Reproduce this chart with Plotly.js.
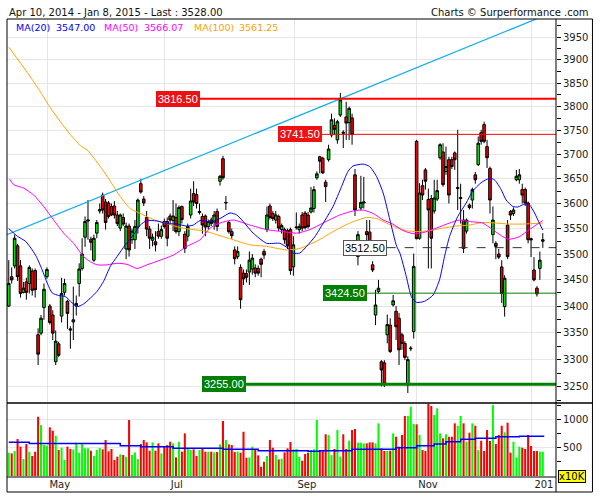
<!DOCTYPE html>
<html><head><meta charset="utf-8">
<script src="https://cdn.plot.ly/plotly-3.0.1.min.js"></script>
<style>html,body{margin:0;padding:0;background:#fff}#chart{width:600px;height:500px}</style>
</head><body><div id="chart"></div>
<script>
// ---- data ----
const open = [3400,3456,3477,3516,3477,3426,3446,3443,3467,3468,3346,3349,3397,3456,3400,3383,3296,3329,3381,3426,3409,3357,3370,3400,3443,3472,3533,3565,3529,3488,3541,3585,3617,3603,3601,3594,
3595,3577,3551,3572,3510,3555,3528,3528,3553,3640,3609,3572,3549,3527,3524,3544,3535,3564,3564,3575,3566,3572,3544,3594,3539,3535,3577,3620,3618,3582,3574,3575,3554,3567,3563,3584,
3645,3691,3601,3562,3544,3508,3495,3474,3463,3462,3465,3471,3473,3472,3490,3505,3548,3595,3580,3567,3574,3548,3548,3546,3548,3475,3552,3548,3577,3581,3577,3583,3590,3652,3695,3692,3643,3689,
3740,3760,3730,3782,3746,3778,3766,3776,3658,3495,3591,3601,3544,3543,3479,3383,3428,3296,3294,3346,3364,3402,3390,3377,3346,3330,3254,3320,3352,3727,3531,3636,3668,3608,3610,3585,3609,3693,3705,3665,3689,3689,3703,3630,3610,3567,3545,3597,3607,3658,3679,3745,3762,3716,3671,3538,3521,3500,3475,3399,3557,3584,3580,3648,3648,3628,3628,3601,3530,3469,3434,3472,3525];
const high = [3488,3474,3538,3520,3488,3446,3454,3478,3472,3472,3358,3383,3443,3474,3404,3392,3354,3333,3454,3452,3412,3362,3437,3420,3482,3531,3574,3607,3534,3538,3567,3600,3622,3609,3605,3600,
3605,3585,3580,3580,3562,3560,3550,3567,3610,3650,3615,3585,3555,3540,3545,3560,3556,3570,3572,3580,3607,3600,3596,3596,3545,3560,3630,3645,3630,3600,3580,3578,3568,3572,3585,3590,
3658,3697,3615,3566,3550,3515,3515,3480,3470,3470,3505,3500,3480,3478,3493,3510,3594,3600,3585,3585,3578,3560,3552,3550,3552,3535,3582,3560,3583,3585,3583,3633,3635,3665,3697,3695,3648,3720,
3785,3775,3772,3829,3750,3810,3800,3785,3670,3545,3656,3654,3567,3567,3486,3431,3450,3299,3299,3384,3377,3421,3400,3387,3350,3334,3306,3325,3501,3730,3641,3648,3672,3630,3617,3648,3648,3723,3723,3716,3695,3695,3706,3751,3640,3587,3570,3600,3632,3664,3737,3751,3768,3730,3675,3594,3525,3510,3488,3459,3567,3587,3592,3668,3670,3640,3632,3604,3532,3494,3438,3505,3541];
const low = [3398,3443,3472,3448,3416,3424,3412,3424,3420,3416,3290,3345,3374,3452,3365,3336,3290,3305,3369,3420,3357,3320,3336,3382,3418,3468,3514,3528,3507,3485,3531,3580,3580,3548,3570,3575,
3570,3555,3545,3555,3490,3495,3520,3510,3540,3620,3595,3535,3510,3515,3505,3530,3530,3550,3515,3560,3545,3540,3535,3560,3502,3525,3570,3595,3590,3578,3540,3535,3548,3555,3548,3545,
3636,3648,3587,3540,3530,3480,3490,3395,3440,3445,3440,3460,3455,3458,3455,3490,3543,3568,3565,3560,3545,3540,3520,3510,3460,3458,3548,3540,3545,3548,3550,3580,3582,3648,3661,3660,3603,3685,
3735,3740,3722,3778,3713,3730,3730,3720,3575,3478,3586,3590,3508,3500,3465,3364,3424,3251,3250,3330,3312,3399,3336,3290,3318,3299,3239,3316,3339,3529,3528,3607,3628,3472,3472,3580,3605,3689,3634,3658,3600,3670,3668,3587,3560,3502,3540,3588,3590,3640,3676,3720,3723,3672,3580,3521,3490,3490,3406,3380,3490,3567,3575,3645,3640,3600,3595,3521,3494,3447,3418,3450,3512];
const close = [3443,3450,3531,3456,3424,3434,3426,3474,3430,3431,3310,3377,3432,3470,3369,3349,3334,3308,3424,3443,3386,3355,3374,3405,3471,3500,3564,3567,3523,3531,3562,3588,3587,3562,3574,3577,
3577,3560,3577,3559,3555,3508,3545,3554,3607,3623,3601,3549,3531,3533,3518,3535,3548,3554,3531,3567,3575,3544,3592,3568,3511,3554,3605,3603,3600,3584,3557,3553,3564,3560,3577,3554,
3655,3652,3602,3544,3536,3491,3505,3412,3452,3455,3488,3492,3463,3463,3480,3498,3577,3572,3570,3577,3551,3556,3528,3516,3468,3518,3553,3554,3551,3552,3554,3591,3628,3660,3686,3662,3634,3711,
3772,3752,3768,3814,3744,3765,3796,3741,3587,3538,3602,3603,3538,3521,3469,3402,3434,3281,3254,3365,3315,3410,3361,3318,3330,3304,3300,3321,3476,3530,3621,3617,3645,3587,3531,3611,3626,3720,3638,3675,3617,3675,3689,3632,3612,3511,3567,3592,3628,3648,3723,3727,3727,3693,3607,3567,3515,3494,3424,3453,3495,3577,3587,3655,3658,3617,3601,3528,3528,3450,3423,3488,3528];
// volume, in units of 10K
const volume = [412,400,442,653,518,301,565,430,354,430,
1045,899,547,535,859,800,711,459,500,283,
518,477,471,588,412,576,489,489,447,354,
459,495,471,635,436,477,283,342,383,371,
342,987,371,418,301,565,635,594,447,594,
447,576,400,530,547,605,576,330,605,430,
753,489,459,471,354,459,489,430,430,430,
418,424,559,970,635,559,547,424,430,412,
781,324,330,518,459,366,165,253,354,635,
500,371,295,306,418,489,600,471,477,342,
271,389,412,459,471,987,459,442,736,723,
371,477,811,342,736,477,623,811,829,588,
588,576,576,594,594,576,929,489,442,442,
447,753,693,518,723,1058,1058,1221,917,911,
723,459,442,1274,1234,1075,1193,753,665,736,
693,693,929,887,1058,929,605,764,929,887,
459,623,442,811,617,1251,565,723,887,771,
940,412,605,330,518,500,477,723,530,442,
442,430,430];
// moving averages, sampled along the session index
const ma20Idx = [0,2.9,5.7,8,9.4,11.4,13.1,14.8,17,19.3,21.6,23.5,25.5,27.8,30.1,32.3,34.6,36.9,39.7,42.5,44.8,47.1,50.5,53.9,57.3,60.7,62.9,65.2,68.6,72,75.4,77.7,79.9,83.3,87.9,92.4,95.2,96.9,99.2,101.5,104.3,107.1,110.5,113.4,115.6,117.3,120.7,123,125.3,127.6,129.9,132.2,133.3,135.5,137.2,138.9,141.7,144.6,146.8,148.5,150.2,153,155.9,158.1,161,163.8,165.5,167.8,169.5,171.8,173.5,175.8,177.5,179.2,180.9,182];
const ma20 = [3550,3535,3525,3508,3495,3469,3444,3425,3420,3418,3406,3399,3404,3415,3428,3447,3476,3495,3518,3538,3557,3566,3565,3560,3559,3555,3557,3566,3563,3570,3581,3577,3564,3541,3521,3521,3511,3502,3502,3515,3534,3560,3594,3634,3665,3676,3680,3675,3655,3621,3567,3515,3502,3456,3418,3407,3409,3421,3450,3495,3534,3574,3601,3625,3642,3651,3648,3628,3607,3594,3593,3599,3597,3581,3560,3547];
const ma50Idx = [0.3,1.7,5.1,8.5,11.9,15.3,18.7,22.1,25.5,27.8,30.1,33.5,36.9,40.3,43.7,47.1,51.6,56.1,60.7,65.2,68.6,72,76.5,82.2,87.9,93.5,98.1,102.6,107.1,112.8,117.3,120.7,124.2,127.6,130.9,134.4,137.8,141.2,145.7,150.2,153.6,157,161.5,164.9,168.4,170.6,174,177.4,179.7,182];
const ma50 = [3649,3638,3631,3617,3594,3567,3541,3521,3495,3485,3479,3479,3482,3480,3472,3479,3488,3498,3515,3528,3551,3561,3567,3557,3548,3544,3541,3548,3561,3577,3585,3587,3580,3567,3559,3546,3540,3542,3551,3561,3567,3564,3561,3548,3534,3529,3534,3548,3557,3566];
const ma100Idx = [0,4,7.4,10.8,14.2,17.6,21,24.4,26.7,31.2,34.6,38,41.4,44.8,49.3,53.9,58.4,62.9,67,70.9,76.5,82.2,87.9,94.7,99.2,104.9,110.5,116.2,121.9,125.3,128.7,132.1,135.5,138.9,143.4,147.9,152.5,157,161.5,166,170.6,175.1,182];
const ma100 = [3928,3893,3863,3831,3797,3768,3741,3718,3709,3675,3645,3614,3590,3580,3568,3560,3552,3548,3545,3538,3528,3518,3515,3508,3511,3525,3544,3561,3572,3570,3561,3552,3546,3544,3546,3551,3555,3557,3562,3561,3559,3559,3561];
const volMaIdx = [0,7,38,45,56,73,85,102,106,117,132,139,145,149,154,159,166,174,182.5];
const volMa = [594,576,535,518,489,471,447,436,447,471,500,535,565,605,647,665,693,700,700];
// trend line (two anchor points) and horizontal levels
const trendIdx = [-0.6, 186.5];
const trendVal = [3538, 4008];
const levels = [3816.5, 3741.5, 3512.5, 3424.5, 3255.0];
// axis labels
const monthTickIdx = [13.3, 53.2, 97.5, 138.8, 178.3];
const monthTickText = ['May', 'Jul', 'Sep', 'Nov', '201'];
const priceTicks = [3250,3300,3350,3400,3450,3500,3550,3600,3650,3700,3750,3800,3850,3900,3950];
const priceMinorTicks = [3225,3275,3325,3375,3425,3475,3525,3575,3625,3675,3725,3775,3825,3875,3925,3975];
const volTicks = [500, 1000];
const volMinorTicks = [250, 750, 1250];
const maNames = ['MA(20)', 'MA(50)', 'MA(100)'];
const maLast = ['3547.00', '3566.07', '3561.25'];
const titleText = 'Apr 10, 2014 - Jan 8, 2015 - Last : 3528.00';
const creditText = 'Charts \u00a9 Surperformance .com';

// ---- layout helpers (pixel -> paper) ----
const plotL = 7, plotR = 556.5, plotT = 19, plotB = 477;
const px = x => (x - plotL) / (plotR - plotL);
const py = y => (plotB - y) / (plotB - plotT);
const splitY = py(403);

const idx = close.map((_, i) => i);
const volColors = close.map((c, i) => c >= open[i] ? '#00ff00' : '#ff0000');
const FONT = 'DejaVu Sans';

const traces = [
  {type:'scatter', mode:'lines', x:trendIdx, y:trendVal, line:{color:'#12aef0', width:1.2}, hoverinfo:'skip', xaxis:'x', yaxis:'y'},
  {type:'scatter', mode:'lines', x:ma100Idx, y:ma100, line:{color:'#ffa200', width:1, shape:'spline', smoothing:0.6}, hoverinfo:'skip', xaxis:'x', yaxis:'y'},
  {type:'scatter', mode:'lines', x:ma50Idx, y:ma50, line:{color:'#ff00ff', width:1, shape:'spline', smoothing:0.6}, hoverinfo:'skip', xaxis:'x', yaxis:'y'},
  {type:'scatter', mode:'lines', x:ma20Idx, y:ma20, line:{color:'#0000ff', width:1, shape:'spline', smoothing:0.6}, hoverinfo:'skip', xaxis:'x', yaxis:'y'},
  {type:'candlestick', x:idx, open:open, high:high, low:low, close:close,
   increasing:{line:{color:'#000000', width:1}, fillcolor:'#00e000'},
   decreasing:{line:{color:'#000000', width:1}, fillcolor:'#ee0000'},
   whiskerwidth:0, hoverinfo:'skip', xaxis:'x', yaxis:'y'},
  {type:'bar', x:idx, y:volume, marker:{color:volColors, line:{width:0}}, hoverinfo:'skip', xaxis:'x', yaxis:'y2'},
  {type:'scatter', mode:'lines', x:volMaIdx, y:volMa, line:{color:'#0000ff', width:1.5, shape:'hv'}, hoverinfo:'skip', xaxis:'x', yaxis:'y2'}
];

const levelStyle = [
  {start:200, color:'#ff0000', width:2, dash:'solid', bg:'#ee1111', fg:'#ffffff', border:'#ee1111'},
  {start:322, color:'#ff0000', width:1, dash:'solid', bg:'#ee1111', fg:'#ffffff', border:'#ee1111'},
  {start:387, color:'#333333', width:1, dash:'dash', bg:'#ffffff', fg:'#000000', border:'#555555'},
  {start:367, color:'#008000', width:1, dash:'solid', bg:'#008000', fg:'#ffffff', border:'#008000'},
  {start:246, color:'#008000', width:3, dash:'solid', bg:'#008000', fg:'#ffffff', border:'#008000'}
];

const shapes = [];
const annotations = [];
levels.forEach((lv, i) => {
  const s = levelStyle[i];
  shapes.push({type:'line', xref:'paper', yref:'y', x0:px(s.start), x1:1, y0:lv, y1:lv,
    line:{color:s.color, width:s.width, dash:s.dash}, layer:'above'});
  annotations.push({xref:'paper', yref:'y', x:px(s.start), y:Math.log10(lv), xanchor:'right', yanchor:'middle',
    text:lv.toFixed(2), showarrow:false, bgcolor:s.bg, bordercolor:s.border, borderwidth:1, borderpad:1,
    font:{family:'Liberation Sans', size:11, color:s.fg}});
});
// frame
const frameLine = {color:'#000000', width:1};
shapes.push({type:'rect', xref:'paper', yref:'paper', x0:0, x1:px(593), y0:py(492), y1:1, line:frameLine, layer:'above'});
shapes.push({type:'line', xref:'paper', yref:'paper', x0:1, x1:1, y0:py(492), y1:1, line:frameLine, layer:'above'});
shapes.push({type:'line', xref:'paper', yref:'paper', x0:0, x1:px(593), y0:splitY, y1:splitY, line:{color:'#000', width:1.5}, layer:'above'});
shapes.push({type:'line', xref:'paper', yref:'paper', x0:0, x1:1, y0:0, y1:0, line:frameLine, layer:'above'});

// titles / legend
annotations.push({xref:'paper', yref:'paper', x:0, y:py(12.5), xanchor:'left', yanchor:'middle', showarrow:false,
  text:titleText, font:{family:FONT, size:10, color:'#111'}});
annotations.push({xref:'paper', yref:'paper', x:px(592), y:py(12.5), xanchor:'right', yanchor:'middle', showarrow:false,
  text:creditText, font:{family:FONT, size:10, color:'#111'}});
const maColors = ['#0000ff', '#ff00ff', '#ffa200'];
const nameX = [14, 102, 191.7];
const valX = [54, 141.7, 237];
maNames.forEach((n, i) => {
  annotations.push({xref:'paper', yref:'paper', x:px(nameX[i]), y:py(27), xanchor:'left', yanchor:'middle', showarrow:false,
    text:n, font:{family:FONT, size:9.5, color:maColors[i]}});
  annotations.push({xref:'paper', yref:'paper', x:px(valX[i]), y:py(27), xanchor:'left', yanchor:'middle', showarrow:false,
    text:maLast[i], font:{family:FONT, size:9.5, color:maColors[i]}});
});
annotations.push({xref:'paper', yref:'paper', x:px(559), y:py(476), xanchor:'left', yanchor:'middle', showarrow:false,
  text:'x10K', bgcolor:'#ffff00', bordercolor:'#000', borderwidth:1, borderpad:0, font:{family:FONT, size:10, color:'#000'}});

const tickFont = {family:FONT, size:10, color:'#222'};
const layout = {
  width:600, height:500,
  margin:{l:plotL, r:600-plotR, t:plotT, b:500-plotB, pad:0},
  paper_bgcolor:'#ffffff', plot_bgcolor:'#ffffff',
  showlegend:false, bargap:0.3, boxgap:0.12, boxgroupgap:0, dragmode:false,
  xaxis:{domain:[0,1], range:[-0.6,186.5], anchor:'y2', tickmode:'array', tickvals:monthTickIdx, ticktext:monthTickText,
    ticks:'', showgrid:true, gridcolor:'#e6e6e6', gridwidth:1, zeroline:false, showline:false, tickfont:tickFont,
    ticklabelshift:12, rangeslider:{visible:false}, fixedrange:true},
  yaxis:{domain:[splitY,1], type:'log', range:[Math.log10(3221.1), Math.log10(3990)], side:'right', anchor:'x',
    tickmode:'array', tickvals:priceTicks, ticktext:priceTicks.map(String), ticks:'outside', ticklen:4, tickwidth:1, tickcolor:'#000',
    showgrid:true, gridcolor:'#e6e6e6', gridwidth:1, zeroline:false, showline:false, tickfont:tickFont,
    minor:{tickvals:priceMinorTicks, ticks:'outside', ticklen:4, tickcolor:'#000', showgrid:false}, fixedrange:true},
  yaxis2:{domain:[0,splitY], range:[-16,1287], side:'right', anchor:'x',
    tickmode:'array', tickvals:volTicks, ticktext:volTicks.map(String), ticks:'outside', ticklen:4, tickwidth:1, tickcolor:'#000',
    showgrid:true, gridcolor:'#e6e6e6', gridwidth:1, zeroline:false, showline:false, tickfont:tickFont,
    minor:{tickvals:volMinorTicks, ticks:'outside', ticklen:4, tickcolor:'#000', showgrid:false}, fixedrange:true},
  shapes:shapes, annotations:annotations
};
Plotly.newPlot('chart', traces, layout, {staticPlot:true, displayModeBar:false});
</script></body></html>
